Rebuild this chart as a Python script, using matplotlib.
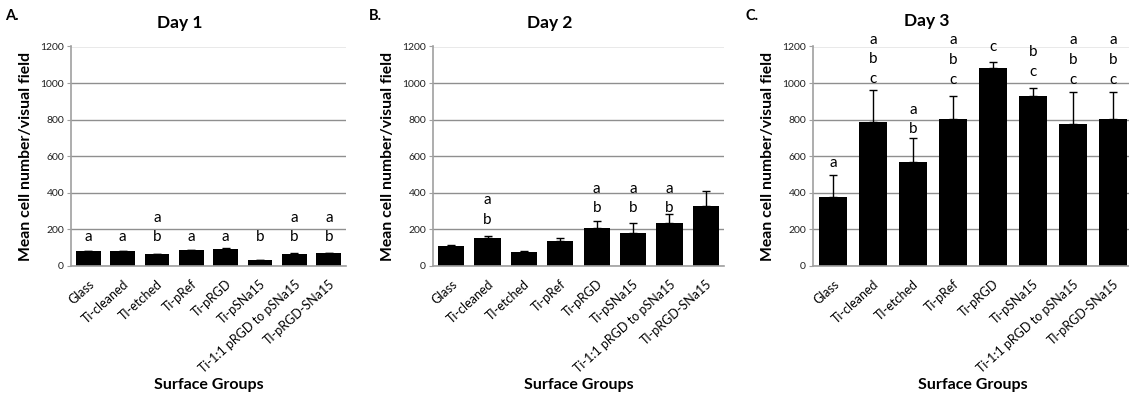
import matplotlib
matplotlib.use("Agg")
import matplotlib.pyplot as plt
import matplotlib.transforms as mtransforms
import numpy as np

plt.rcParams['font.family'] = ['Lato', 'DejaVu Sans']

groups = ["Glass", "Ti-cleaned", "TI-etched", "Ti-pRef", "Ti-pRGD", "Ti-pSNa15",
          "Ti-1:1 pRGD to pSNa15", "TI-pRGD-SNa15"]

day1_mean = [82, 82, 64, 88, 93, 33, 64, 69]
day1_top = [82, 82, 64, 88, 97, 33, 69, 69]
day2_mean = [108, 152, 75, 135, 206, 179, 234, 327]
day2_top = [111, 163, 80, 150, 247, 236, 281, 407]
day3_mean = [375, 784, 567, 805, 1085, 927, 778, 805]
day3_top = [495, 964, 698, 931, 1116, 975, 953, 953]

day1_letters = ["a", "a", "ab", "a", "a", "b", "ab", "ab"]
day2_letters = ["", "ab", "", "", "ab", "ab", "ab", ""]
day3_letters = ["a", "abc", "ab", "abc", "c", "bc", "abc", "abc"]
# y (data units) of the lowest letter of each stack
day1_letter_y = [155, 155, 155, 155, 155, 155, 155, 155]
day2_letter_y = [0, 250, 0, 0, 314, 314, 314, 0]
day3_letter_y = [560, 1022, 747, 1018, 1199, 1062, 1018, 1018]
letter_step = 108

titles = ["Day 1", "Day 2", "Day 3"]
panel_tags = ["A.", "B.", "C."]
yticks = [0, 200, 400, 600, 800, 1000, 1200]

W, H = 1129, 397
fig = plt.figure(figsize=(W / 100, H / 100), dpi=100)

axes_px = [(71, 346), (433, 724), (813, 1133)]
y_top_px, y_bot_px = 46.5, 265.7
title_px = [(180, 23), (550, 23), (927, 21)]
tag_px = [(5, 16), (369, 16), (746, 16)]

grid_c = "#8f8f8f"
spine_c = "#a0a0a0"

panels = [
    (day1_mean, day1_top, day1_letters, day1_letter_y),
    (day2_mean, day2_top, day2_letters, day2_letter_y),
    (day3_mean, day3_top, day3_letters, day3_letter_y),
]

x = np.arange(len(groups))
for k, (mean, top, letters, ly) in enumerate(panels):
    l, r = axes_px[k]
    ax = fig.add_axes([l / W, 1 - y_bot_px / H, (r - l) / W, (y_bot_px - y_top_px) / H])
    ax.set_xlim(-0.5, len(groups) - 0.5)
    ax.set_ylim(0, 1200)
    ax.set_yticks(yticks)
    ax.yaxis.grid(True, color=grid_c, lw=1.0)
    ax.set_axisbelow(True)
    mean_a = np.array(mean, float)
    top_a = np.array(top, float)
    ax.bar(x, mean_a, width=0.72, color="black", zorder=2)
    ax.errorbar(x, mean_a, yerr=[np.zeros_like(mean_a), top_a - mean_a], fmt="none",
                ecolor="black", elinewidth=1.0, capsize=3, capthick=1.0, zorder=3)
    for s in ["top", "right"]:
        ax.spines[s].set_visible(False)
    for s in ["left", "bottom"]:
        ax.spines[s].set_color(spine_c)
        ax.spines[s].set_linewidth(1.2)
    ax.tick_params(axis="y", length=3, color=spine_c, labelsize=7.5, pad=2, labelcolor="#202020")
    ax.tick_params(axis="x", length=0, pad=12)
    ax.set_xticks(x)
    ax.set_xticklabels(groups, rotation=42, ha="right", rotation_mode="anchor",
                       fontsize=9, va="center")
    off = mtransforms.ScaledTranslation(4 / 100, 0, fig.dpi_scale_trans)
    for lab in ax.get_xticklabels():
        lab.set_transform(lab.get_transform() + off)
    for i, lt in enumerate(letters):
        for j, ch in enumerate(reversed(lt)):
            ax.text(i, ly[i] + j * letter_step, ch, ha="center", va="center",
                    fontsize=11, clip_on=False, zorder=4)
    # y label
    fig.text((l - 45) / W, 1 - (y_top_px + y_bot_px) / 2 / H, "Mean cell number/visual field",
             rotation=90, ha="center", va="center", fontsize=11.3, fontweight="bold")
    fig.text((l + r) / 2 / W, 1 - 385 / H, "Surface Groups", ha="center", va="center",
             fontsize=11.5, fontweight="bold")
    fig.text(title_px[k][0] / W, 1 - title_px[k][1] / H, titles[k], ha="center", va="center",
             fontsize=12.5, fontweight="bold")
    fig.text(tag_px[k][0] / W, 1 - tag_px[k][1] / H, panel_tags[k], ha="left", va="center",
             fontsize=10.5, fontweight="bold")

fig.savefig("out.png", dpi=100)
